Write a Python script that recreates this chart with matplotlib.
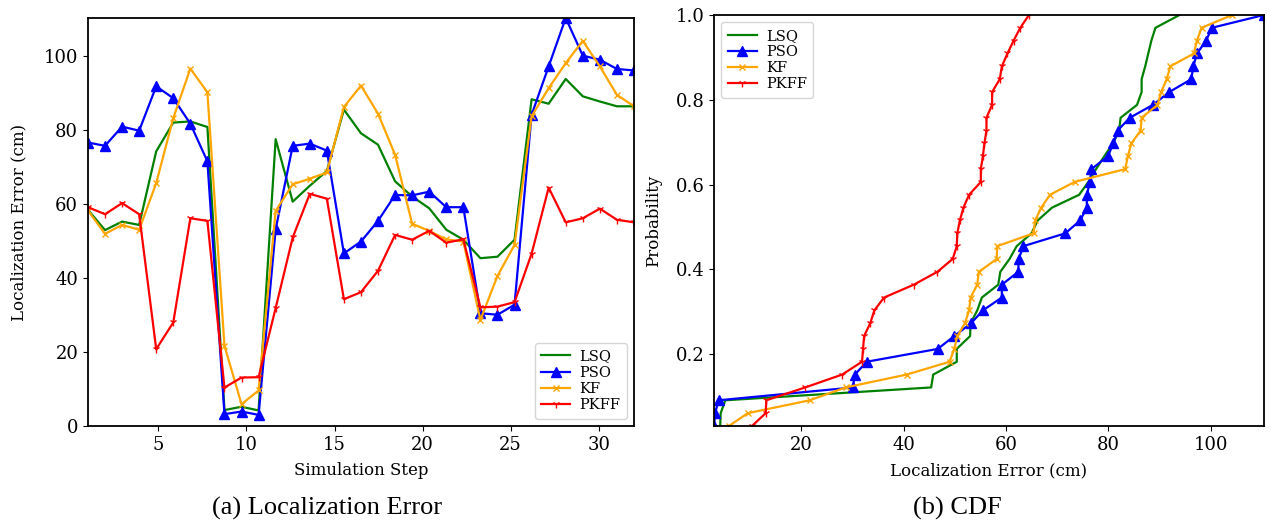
import matplotlib
matplotlib.use("Agg")
import matplotlib.pyplot as plt
import numpy as np

plt.rcParams['font.family'] = 'DejaVu Serif'

# simulation steps (33 samples between step 1 and 32)
steps = np.linspace(1, 32, 33)

lsq = [58.5, 53.0, 55.3, 54.4, 74.3, 82.1, 82.4, 80.9, 4.3, 5.2, 4.2, 77.6, 60.7,
       65.0, 69.0, 85.6, 79.2, 76.1, 66.2, 62.1, 58.9, 53.1, 50.4, 45.4, 45.8, 50.4,
       88.4, 87.2, 93.9, 89.2, 87.8, 86.5, 86.5]
pso = [76.7, 75.8, 81.0, 79.9, 91.9, 88.7, 81.8, 71.6, 3.2, 3.9, 3.0, 53.2, 75.8,
       76.4, 74.5, 46.7, 49.9, 55.5, 62.5, 62.4, 63.4, 59.2, 59.2, 30.5, 30.1, 32.8,
       84.2, 97.3, 110.4, 100.2, 99.1, 96.6, 96.2]
kf = [58.3, 52.0, 54.4, 53.1, 65.7, 83.3, 96.7, 90.3, 21.7, 5.9, 9.6, 58.2, 65.4,
      66.9, 68.6, 86.3, 92.1, 84.5, 73.4, 54.7, 52.8, 50.5, 49.9, 28.7, 40.6, 49.0,
      83.8, 91.4, 98.2, 104.2, 97.3, 89.6, 86.5]
pkff = [59.2, 57.3, 60.3, 57.3, 20.8, 28.0, 56.2, 55.5, 10.4, 13.1, 13.2, 31.9, 51.0,
        62.8, 61.5, 34.3, 36.2, 42.0, 51.7, 50.4, 52.8, 49.6, 50.5, 32.1, 32.3, 33.5,
        46.6, 64.5, 55.1, 56.2, 58.8, 55.8, 55.1]

names = ['LSQ', 'PSO', 'KF', 'PKFF']
series = [lsq, pso, kf, pkff]
colors = ['green', 'blue', 'orange', 'red']
markers = [None, '^', 'x', '1']
msizes = [0, 7, 5, 6]

fig = plt.figure(figsize=(12.71, 5.27), dpi=100)
ax1 = fig.add_axes([0.0692, 0.1917, 0.4296, 0.7742])
ax2 = fig.add_axes([0.5618, 0.1917, 0.4327, 0.7799])

for name, vals, c, m, ms in zip(names, series, colors, markers, msizes):
    ax1.plot(steps, vals, color=c, marker=m, markersize=ms, lw=1.6, label=name)
    # empirical CDF
    sv = np.sort(vals)
    prob = np.arange(1, len(sv) + 1) / len(sv)
    ax2.plot(sv, prob, color=c, marker=m, markersize=ms, lw=1.6, label=name)

allv = np.concatenate([np.array(s) for s in series])
ax1.set_xlim(1, 32)
ax1.set_ylim(0, allv.max())
ax1.set_xlabel('Simulation Step', fontsize=12, labelpad=6)
ax1.set_ylabel('Localization Error (cm)', fontsize=12, labelpad=12)
ax1.legend(loc='lower right', fontsize=10.5, labelspacing=0.15,
           borderpad=0.45, handletextpad=0.6)

ax2.set_xlim(allv.min(), allv.max())
ax2.set_ylim(1 / len(lsq), 1.0)
ax2.set_xlabel('Localization Error (cm)', fontsize=12, labelpad=6)
ax2.set_ylabel('Probability', fontsize=12, labelpad=10)
ax2.legend(loc='upper left', fontsize=10.5, labelspacing=0.15,
           borderpad=0.45, handletextpad=0.6)

for ax in (ax1, ax2):
    ax.tick_params(labelsize=13)
    for sp in ax.spines.values():
        sp.set_linewidth(1.3)

fig.text(0.257, 0.036, '(a) Localization Error', ha='center', va='center',
         fontsize=19, family='Liberation Serif')
fig.text(0.753, 0.036, '(b) CDF', ha='center', va='center',
         fontsize=19, family='Liberation Serif')

fig.savefig('out.png', dpi=100)
